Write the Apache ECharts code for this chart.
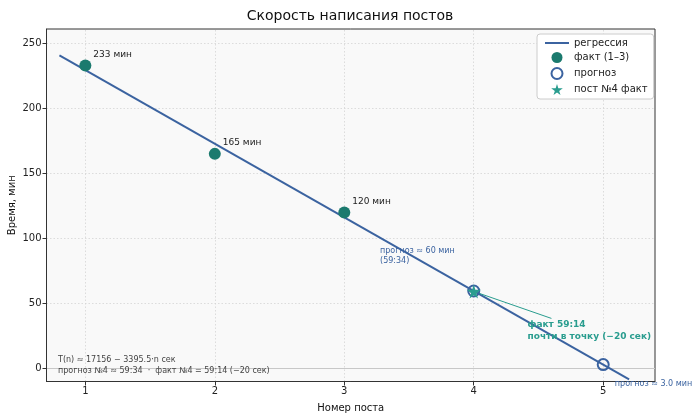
<!DOCTYPE html>
<html>
<head>
<meta charset="utf-8">
<script src="https://cdn.jsdelivr.net/npm/echarts@6/dist/echarts.min.js"></script>
<style>
html, body { margin: 0; padding: 0; background: #fff; }
#chart { width: 700px; height: 420px; }
</style>
</head>
<body>
<div id="chart"></div>
<script>
// данные
var posts = [1, 2, 3]
var factMin = [233, 165, 120]
var factLabels = ['233 мин', '165 мин', '120 мин']
var forecastX = [4, 5]
var forecastMin = [59.57, 3.0]
var post4X = [4]
var post4Min = [59.23]
var regX = [0.8, 5.2]
var regY = [240.7, -8.3]
var xTicks = [1, 2, 3, 4, 5]
var yTicks = [0, 50, 100, 150, 200, 250]

var FONT = 'DejaVu Sans'
var BLUE = '#3b63a0'
var TEAL = '#1b7a6e'
var GREEN = '#2a9d8f'
var STAR = 'path://M50,0 L61,35 L98,35 L68,57 L79,91 L50,70 L21,91 L32,57 L2,35 L39,35 Z'

function pairs (xs, ys) {
    return xs.map(function (x, i) { return [x, ys[i]] })
}

var gridLines = []
xTicks.forEach(function (v) { gridLines.push({ xAxis: v }) })
yTicks.forEach(function (v) {
    if (v !== 0) gridLines.push({ yAxis: v })
})

var chart = echarts.init(document.getElementById('chart'), null, { renderer: 'canvas' })

var option = {
    animation: false,
    textStyle: { fontFamily: FONT },
    title: {
        text: 'Скорость написания постов',
        left: 'center',
        top: 4,
        textStyle: { fontFamily: FONT, fontSize: 14, fontWeight: 'normal', color: '#111' }
    },
    legend: {
        orient: 'vertical',
        left: 537,
        top: 34,
        padding: [4, 6, 4, 7],
        itemGap: 4,
        itemWidth: 24,
        itemHeight: 11,
        backgroundColor: '#fff',
        borderColor: '#cccccc',
        borderWidth: 1,
        borderRadius: 3,
        textStyle: { fontFamily: FONT, fontSize: 10, color: '#222' },
        data: [
            { name: 'регрессия', itemStyle: { opacity: 0 } },
            { name: 'факт (1–3)' },
            { name: 'прогноз' },
            { name: 'пост №4 факт', itemStyle: { color: GREEN } }
        ]
    },
    grid: {
        left: 46.5,
        right: 45,
        top: 29,
        bottom: 38.5,
        containLabel: false,
        outerBoundsMode: 'none',
        show: true,
        backgroundColor: '#f9f9f9',
        borderColor: '#333',
        borderWidth: 1
    },
    xAxis: {
        type: 'value',
        min: 0.7,
        max: 5.4,
        name: 'Номер поста',
        nameLocation: 'middle',
        nameGap: 22,
        nameTextStyle: { fontFamily: FONT, fontSize: 10, color: '#111' },
        axisLine: { show: true, onZero: false, lineStyle: { color: '#333' } },
        axisTick: { show: true, customValues: xTicks, length: 4, lineStyle: { color: '#333' } },
        axisLabel: { customValues: xTicks, fontSize: 10, color: '#222', margin: 5 },
        splitLine: { show: false }
    },
    yAxis: {
        type: 'value',
        min: -10,
        max: 261,
        axisLine: { show: true, onZero: false, lineStyle: { color: '#333' } },
        axisTick: { show: true, customValues: yTicks, length: 4, lineStyle: { color: '#333' } },
        axisLabel: { customValues: yTicks, fontSize: 10, color: '#222', margin: 5 },
        splitLine: { show: false }
    },
    series: [
        {
            name: 'сетка',
            type: 'line',
            data: [],
            silent: true,
            z: 0,
            markLine: {
                silent: true,
                symbol: 'none',
                z: 0,
                label: { show: false },
                lineStyle: { color: '#d4d4d4', type: [1.5, 2], width: 0.8 },
                data: gridLines.concat([
                    { yAxis: 0, lineStyle: { color: '#c8c8c8', type: 'solid', width: 1.2 } }
                ])
            }
        },
        {
            name: 'регрессия',
            type: 'line',
            data: pairs(regX, regY),
            symbol: 'none',
            clip: false,
            lineStyle: { color: BLUE, width: 2 },
            itemStyle: { color: BLUE },
            z: 3,
            markLine: { // стрелка к факту №4
                silent: true,
                symbol: 'none',
                label: { show: false },
                lineStyle: { color: GREEN, width: 1, type: 'solid' },
                data: [[{ coord: [4.6, 38.5] }, { coord: [post4X[0], post4Min[0]] }]]
            }
        },
        {
            name: 'факт (1–3)',
            type: 'scatter',
            data: pairs(posts, factMin),
            symbol: 'circle',
            symbolSize: 12,
            itemStyle: { color: TEAL, opacity: 1 },
            z: 10,
            label: {
                show: true,
                position: 'right',
                distance: 2,
                offset: [0, -11],
                fontSize: 9,
                color: '#222',
                formatter: function (p) { return factLabels[p.dataIndex] }
            }
        },
        {
            name: 'прогноз',
            type: 'scatter',
            data: pairs(forecastX, forecastMin),
            symbol: 'circle',
            symbolSize: 11,
            clip: false,
            itemStyle: { color: 'rgba(255,255,255,0)', borderColor: BLUE, borderWidth: 2, opacity: 1 },
            z: 11
        },
        {
            name: 'пост №4 факт',
            type: 'scatter',
            data: pairs(post4X, post4Min),
            symbol: STAR,
            symbolSize: 14,
            itemStyle: { color: GREEN, opacity: 1 },
            z: 12
        }
    ]
}

chart.setOption(option)

// подписи-аннотации в координатах данных
function at (x, y) {
    return chart.convertToPixel({ gridIndex: 0 }, [x, y])
}

var p1 = at(3.276, 94)
var p2 = at(4.415, 38)
var p3 = at(5.09, -11.5)
var yMid = (at(1, -10)[1] + at(1, 261)[1]) / 2

chart.setOption({
    graphic: [
        { // подпись оси Y
            type: 'text', x: 12, y: yMid, rotation: Math.PI / 2, z: 10,
            style: { text: 'Время, мин', fontFamily: FONT, fontSize: 10, fill: '#111', align: 'center', verticalAlign: 'middle' }
        },
        {
            type: 'text', x: p1[0], y: p1[1], z: 10,
            style: { text: 'прогноз ≈ 60 мин\n(59:34)', fontFamily: FONT, fontSize: 8, lineHeight: 10, fill: BLUE }
        },
        {
            type: 'text', x: p2[0], y: p2[1], z: 10,
            style: { text: 'факт 59:14\nпочти в точку (−20 сек)', fontFamily: FONT, fontSize: 9, fontWeight: 'bold', lineHeight: 12, fill: GREEN }
        },
        {
            type: 'text', x: p3[0], y: p3[1], z: 10,
            style: { text: 'прогноз ≈ 3.0 мин', fontFamily: FONT, fontSize: 8, fill: BLUE, verticalAlign: 'middle' }
        },
        {
            type: 'text', left: 58, top: 354, z: 10,
            style: { text: 'T(n) ≈ 17156 − 3395.5·n сек\nпрогноз №4 ≈ 59:34  ·  факт №4 = 59:14 (−20 сек)', fontFamily: FONT, fontSize: 8, lineHeight: 11, fill: '#444' }
        }
    ]
})
</script>
</body>
</html>
